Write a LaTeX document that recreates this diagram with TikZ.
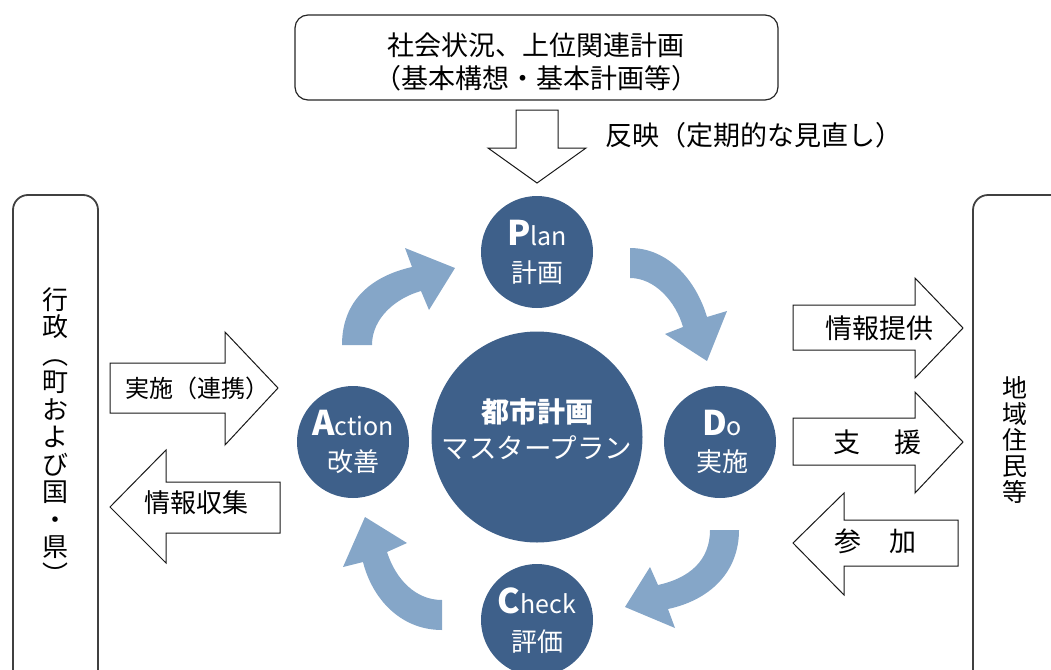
\documentclass[tikz,border=0pt]{standalone}
\usepackage{fontspec}
\setmainfont{Noto Sans CJK JP}
\definecolor{circ}{RGB}{62,96,138}
\definecolor{arr}{RGB}{133,166,200}
\newcommand{\fs}[1]{\fontsize{#1}{#1}\selectfont}
\begin{document}
\begin{tikzpicture}[x=1pt,y=-1pt,
  box/.style={draw=black!85, line width=1.2pt, rounded corners=13pt},
  sidebox/.style={draw=black!75, line width=1.8pt, rounded corners=15pt},
  blk/.style={draw=black!90, line width=1pt, fill=white, line join=miter},
  pdca/.style={circle, fill=circ, minimum size=112pt, inner sep=0pt},
  ctext/.style={text=white, inner sep=0pt},
  cjk/.style={inner sep=0pt},
  carr/.style={fill=arr}]
\useasboundingbox (0,0) rectangle (1051,669);
\clip (0,0) rectangle (1051,669);

% top source box
\node[box, minimum width=483pt, minimum height=85pt] (src) at (536.5,57.5) {};
\node[cjk,font=\fs{27}] (s1) at (536,45) {社会状況、上位関連計画};
\node[cjk,font=\fs{27}] (s2) at (536,78) {（基本構想・基本計画等）};
% down arrow
\draw[blk] (516,110) -- (558,110) -- (558,148) -- (586,148) -- (537,183) -- (488,148) -- (516,148) -- cycle;
\node[cjk, font=\fs{27}, anchor=west] (refl) at (605,135) {反映（定期的な見直し）};

% side boxes
\draw[sidebox] (13,195) rectangle (98,700);
\draw[sidebox] (973,195) rectangle (1090,700);
\node[cjk, font=\fontsize{26}{27.5}\selectfont, align=center] (gov) at (55,436) {行\\政\\︵\\町\\お\\よ\\び\\国\\・\\県\\︶};
\node[cjk, font=\fontsize{25}{26}\selectfont, align=center] (res) at (1015,440) {地\\域\\住\\民\\等};

% left block arrows
\draw[blk] (110,363) -- (225,363) -- (225,332) -- (278,388) -- (225,445) -- (225,413) -- (110,413) -- cycle;
\node[cjk,font=\fs{24}] (t1) at (197,388) {実施（連携）};
\draw[blk] (110,507) -- (166,450) -- (166,482) -- (280,482) -- (280,533) -- (166,533) -- (166,563) -- cycle;
\node[cjk,font=\fs{26}] (t2) at (196,503) {情報収集};

% right block arrows
\draw[blk] (793,305) -- (915,305) -- (915,278) -- (963,328) -- (915,378) -- (915,350) -- (793,350) -- cycle;
\node[cjk,font=\fs{27}] (t3) at (879,328) {情報提供};
\draw[blk] (793,418) -- (915,418) -- (915,392) -- (963,442) -- (915,493) -- (915,465) -- (793,465) -- cycle;
\node[cjk,font=\fs{27}] (t4) at (877,442) {支\hspace{34pt}援};
\draw[blk] (793,543) -- (844,493) -- (844,520) -- (958,520) -- (958,566) -- (844,566) -- (844,595) -- cycle;
\node[cjk,font=\fs{27}] (t5) at (875,541) {参\hspace{28pt}加};

% curved arrows
\fill[carr] (372,345) -- (342,345) .. controls (342,300) and (372,276) .. (412,267) -- (405,248) -- (455,268) -- (429,310) -- (421,291) .. controls (396,298) and (372,318) .. (372,345) -- cycle;
\fill[carr] (630,278) -- (630,248) .. controls (668,248) and (696,280) .. (707,317) -- (727,311) -- (707,361) -- (665,334) -- (683,327) .. controls (676,302) and (655,278) .. (630,278) -- cycle;
\fill[carr] (710,530) -- (739,530) .. controls (739,572) and (710,600) .. (668,609) -- (675,628) -- (625,607) -- (650,567) -- (658,585) .. controls (690,578) and (710,560) .. (710,530) -- cycle;
\fill[carr] (442,600) -- (442,630) .. controls (400,630) and (372,598) .. (363,562) -- (343,567) -- (365,517) -- (407,543) -- (387,552) .. controls (396,580) and (416,600) .. (442,600) -- cycle;

% circles
\node[pdca, minimum size=211pt] (mp) at (537,437) {};
\node[ctext, font=\fs{28}\bfseries] (mp1) at (537,412) {都市計画};
\node[ctext, font=\fs{27.5}] (mp2) at (537,448) {マスタープラン};

\node[pdca] (plan) at (537,252) {};
\node[ctext, anchor=base] (planA) at (537,245) {\fs{34}\bfseries P\fs{25}\mdseries lan};
\node[ctext, font=\fs{26}] (planB) at (537,273) {計画};

\node[pdca] (do) at (720,442) {};
\node[ctext, anchor=base] (doA) at (722,435) {\fs{34}\bfseries D\fs{25}\mdseries o};
\node[ctext, font=\fs{26}] (doB) at (722,462) {実施};

\node[pdca] (check) at (537,620) {};
\node[ctext, anchor=base] (checkA) at (537,613) {\fs{34}\bfseries C\fs{25}\mdseries heck};
\node[ctext, font=\fs{26}] (checkB) at (537,642) {評価};

\node[pdca] (act) at (353,442) {};
\node[ctext, anchor=base] (actA) at (353,435) {\fs{34}\bfseries A\fs{25}\mdseries ction};
\node[ctext, font=\fs{26}] (actB) at (353,462) {改善};
\end{tikzpicture}
\end{document}
